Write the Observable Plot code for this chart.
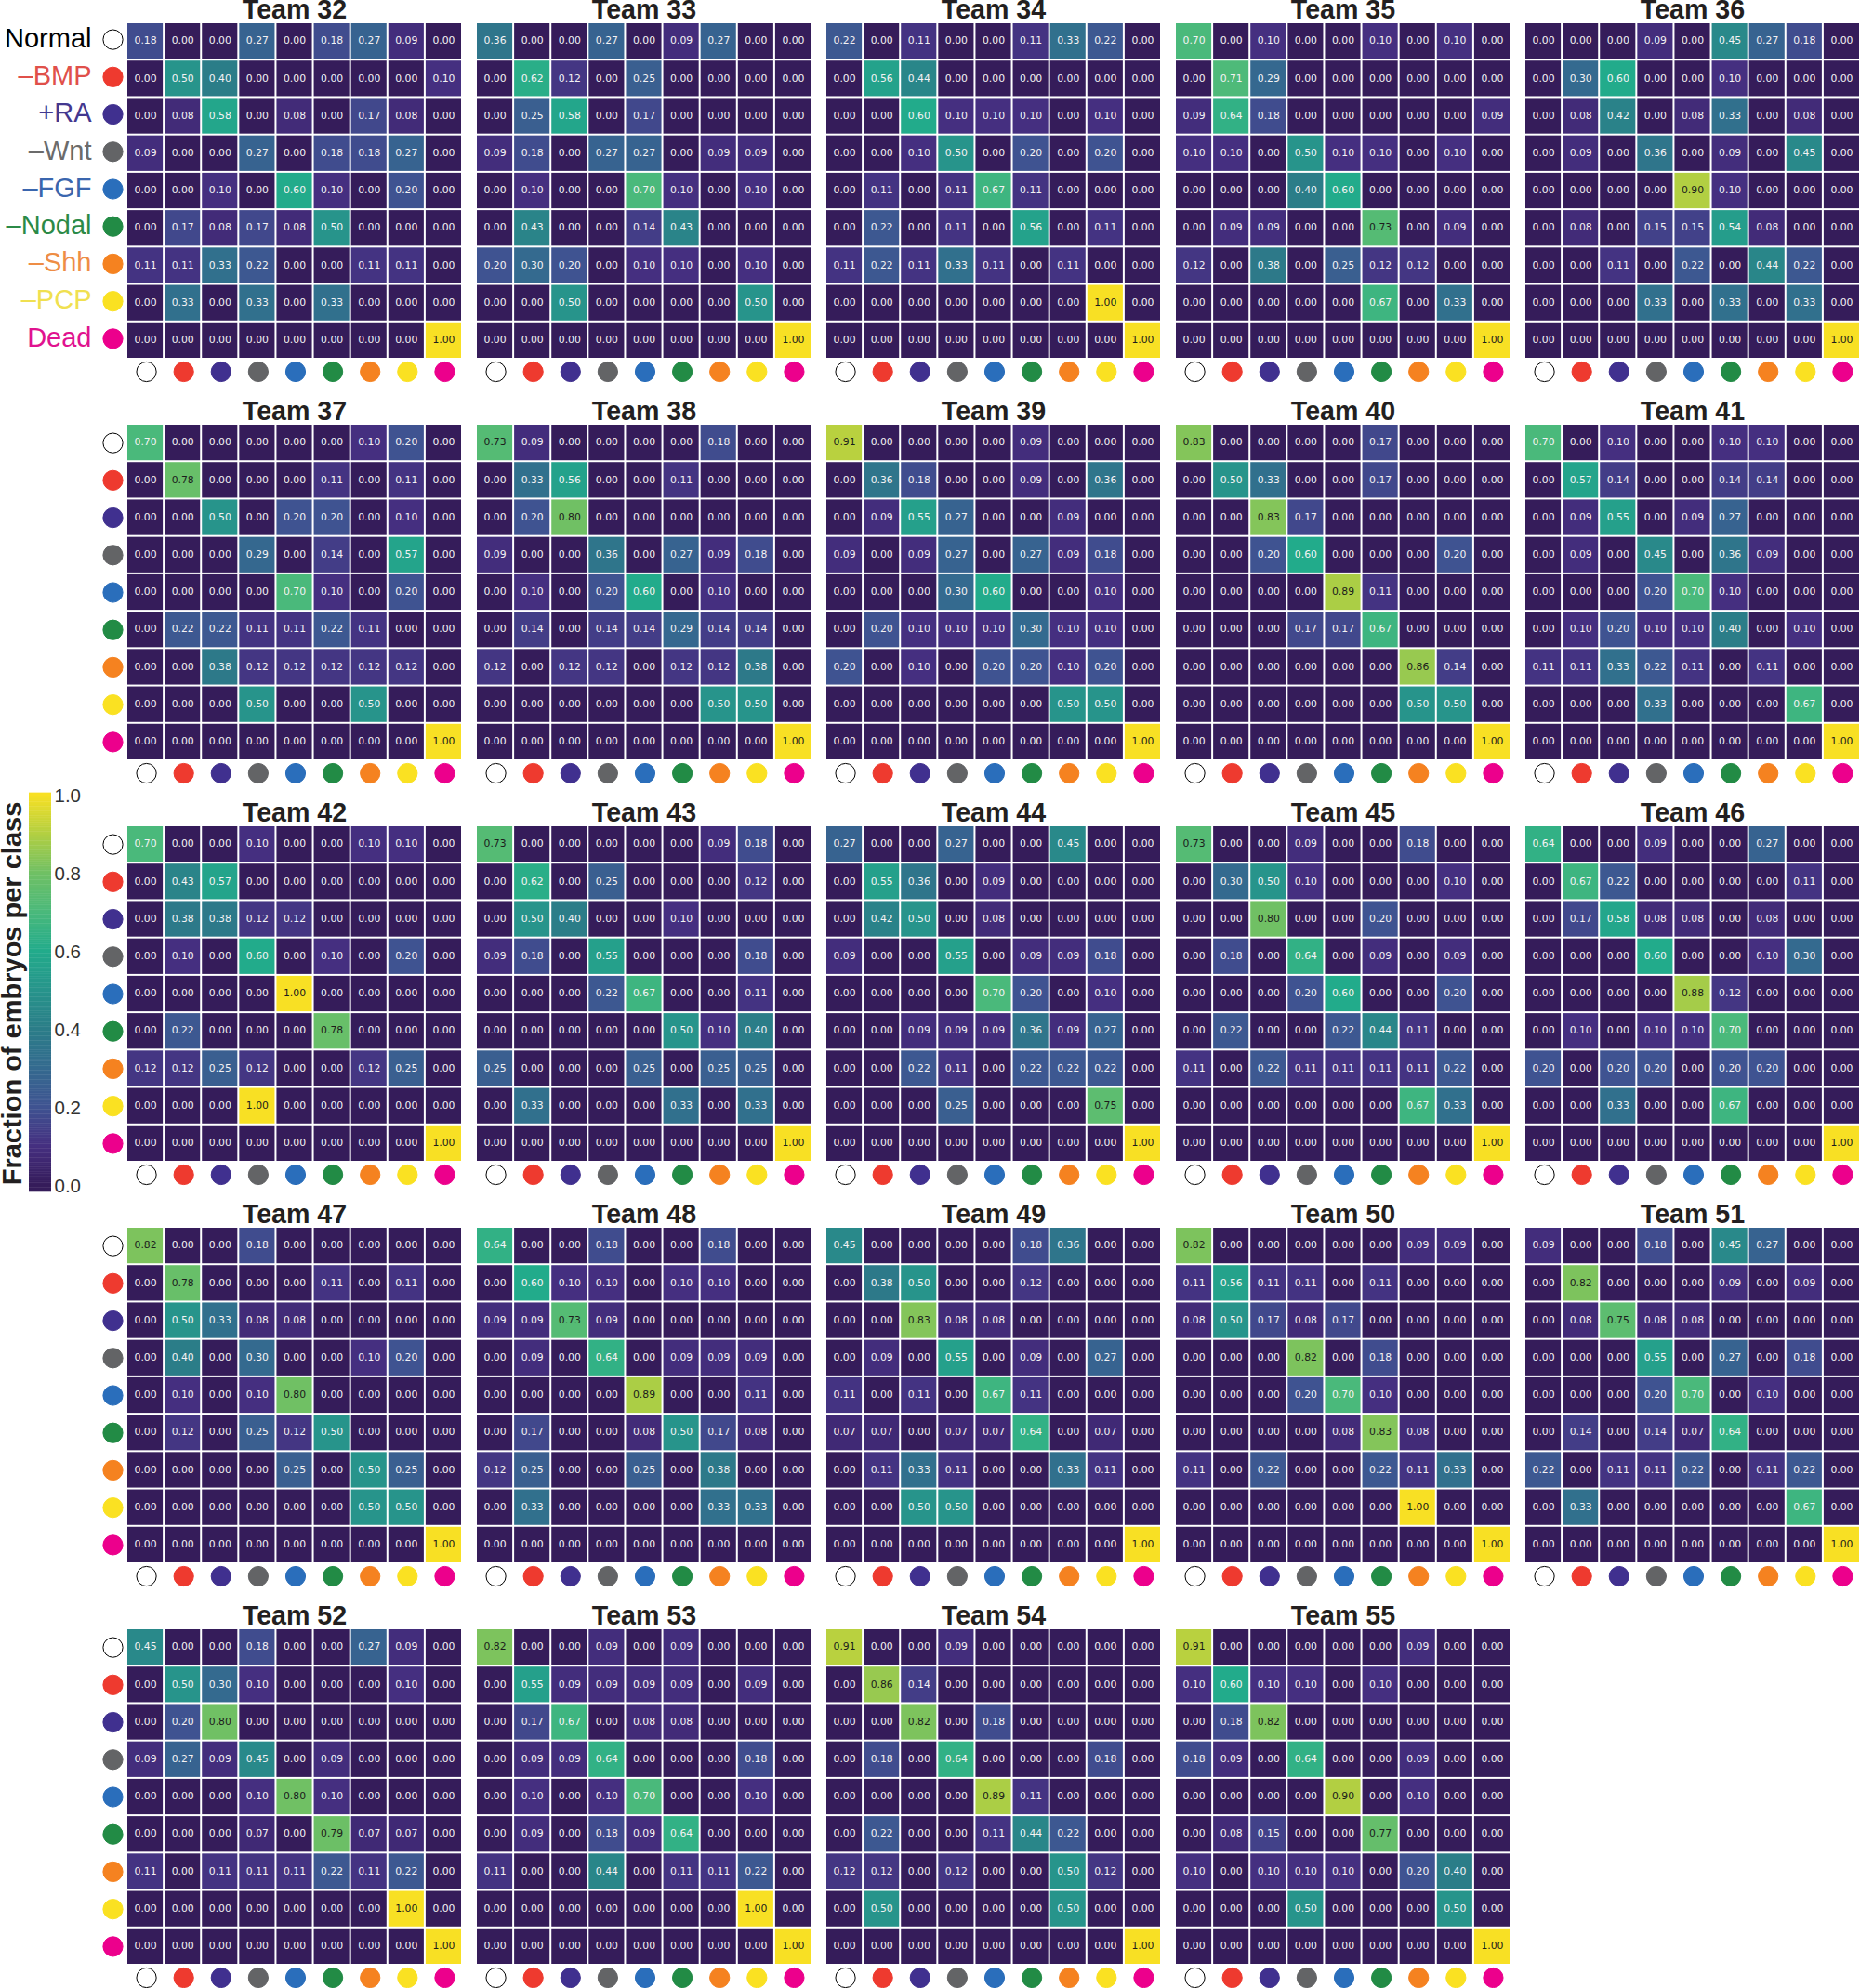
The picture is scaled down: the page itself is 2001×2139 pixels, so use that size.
<!DOCTYPE html>
<html>
<head>
<meta charset="utf-8">
<script src="https://cdn.jsdelivr.net/npm/d3@7"></script>
<script src="https://cdn.jsdelivr.net/npm/@observablehq/plot@0.6"></script>
<style>
  html, body { margin: 0; padding: 0; background: white; }
  #page { position: relative; width: 2001px; height: 2139px; overflow: hidden; }
  #page svg { display: block; position: absolute; background: transparent; }
</style>
</head>
<body>
<div id="page"></div>
<script>
const class_names = ["Normal", "–BMP", "+RA", "–Wnt", "–FGF", "–Nodal", "–Shh", "–PCP", "Dead"];
const class_fills = ["#ffffff", "#ee3a2f", "#40308f", "#636466", "#2a6ebb", "#228b45", "#f58220", "#fae122", "#ec008c"];
const class_strokes = ["#000000", "#ee3a2f", "#40308f", "#636466", "#2a6ebb", "#228b45", "#f58220", "#fae122", "#ec008c"];
const label_colors = ["#000000", "#e0504a", "#43388f", "#6b6b6b", "#3a66ae", "#2b8a47", "#ee8d45", "#f0e050", "#e0128f"];

const color_domain = [0, 0.1, 0.2, 0.3, 0.4, 0.5, 0.6, 0.7, 0.8, 0.9, 1];
const color_range = ["#351c5a", "#452f80", "#3f5391", "#346a8f", "#2b7d88", "#27948b", "#22ab8b", "#4ab97b", "#70c064", "#b2cf42", "#f8e024"];
const colorbar_ticks = [0, 0.2, 0.4, 0.6, 0.8, 1];

const dead_row = [0, 0, 0, 0, 0, 0, 0, 0, 1];

const team32 = [[.18,0,0,.27,0,.18,.27,.09,0],[0,.5,.4,0,0,0,0,0,.1],[0,.08,.58,0,.08,0,.17,.08,0],[.09,0,0,.27,0,.18,.18,.27,0],[0,0,.1,0,.6,.1,0,.2,0],[0,.17,.08,.17,.08,.5,0,0,0],[.11,.11,.33,.22,0,0,.11,.11,0],[0,.33,0,.33,0,.33,0,0,0],dead_row];
const team33 = [[.36,0,0,.27,0,.09,.27,0,0],[0,.62,.12,0,.25,0,0,0,0],[0,.25,.58,0,.17,0,0,0,0],[.09,.18,0,.27,.27,0,.09,.09,0],[0,.1,0,0,.7,.1,0,.1,0],[0,.43,0,0,.14,.43,0,0,0],[.2,.3,.2,0,.1,.1,0,.1,0],[0,0,.5,0,0,0,0,.5,0],dead_row];
const team34 = [[.22,0,.11,0,0,.11,.33,.22,0],[0,.56,.44,0,0,0,0,0,0],[0,0,.6,.1,.1,.1,0,.1,0],[0,0,.1,.5,0,.2,0,.2,0],[0,.11,0,.11,.67,.11,0,0,0],[0,.22,0,.11,0,.56,0,.11,0],[.11,.22,.11,.33,.11,0,.11,0,0],[0,0,0,0,0,0,0,1,0],dead_row];
const team35 = [[.7,0,.1,0,0,.1,0,.1,0],[0,.71,.29,0,0,0,0,0,0],[.09,.64,.18,0,0,0,0,0,.09],[.1,.1,0,.5,.1,.1,0,.1,0],[0,0,0,.4,.6,0,0,0,0],[0,.09,.09,0,0,.73,0,.09,0],[.12,0,.38,0,.25,.12,.12,0,0],[0,0,0,0,0,.67,0,.33,0],dead_row];
const team36 = [[0,0,0,.09,0,.45,.27,.18,0],[0,.3,.6,0,0,.1,0,0,0],[0,.08,.42,0,.08,.33,0,.08,0],[0,.09,0,.36,0,.09,0,.45,0],[0,0,0,0,.9,.1,0,0,0],[0,.08,0,.15,.15,.54,.08,0,0],[0,0,.11,0,.22,0,.44,.22,0],[0,0,0,.33,0,.33,0,.33,0],dead_row];
const team37 = [[.7,0,0,0,0,0,.1,.2,0],[0,.78,0,0,0,.11,0,.11,0],[0,0,.5,0,.2,.2,0,.1,0],[0,0,0,.29,0,.14,0,.57,0],[0,0,0,0,.7,.1,0,.2,0],[0,.22,.22,.11,.11,.22,.11,0,0],[0,0,.38,.12,.12,.12,.12,.12,0],[0,0,0,.5,0,0,.5,0,0],dead_row];
const team38 = [[.73,.09,0,0,0,0,.18,0,0],[0,.33,.56,0,0,.11,0,0,0],[0,.2,.8,0,0,0,0,0,0],[.09,0,0,.36,0,.27,.09,.18,0],[0,.1,0,.2,.6,0,.1,0,0],[0,.14,0,.14,.14,.29,.14,.14,0],[.12,0,.12,.12,0,.12,.12,.38,0],[0,0,0,0,0,0,.5,.5,0],dead_row];
const team39 = [[.91,0,0,0,0,.09,0,0,0],[0,.36,.18,0,0,.09,0,.36,0],[0,.09,.55,.27,0,0,.09,0,0],[.09,0,.09,.27,0,.27,.09,.18,0],[0,0,0,.3,.6,0,0,.1,0],[0,.2,.1,.1,.1,.3,.1,.1,0],[.2,0,.1,0,.2,.2,.1,.2,0],[0,0,0,0,0,0,.5,.5,0],dead_row];
const team40 = [[.83,0,0,0,0,.17,0,0,0],[0,.5,.33,0,0,.17,0,0,0],[0,0,.83,.17,0,0,0,0,0],[0,0,.2,.6,0,0,0,.2,0],[0,0,0,0,.89,.11,0,0,0],[0,0,0,.17,.17,.67,0,0,0],[0,0,0,0,0,0,.86,.14,0],[0,0,0,0,0,0,.5,.5,0],dead_row];
const team41 = [[.7,0,.1,0,0,.1,.1,0,0],[0,.57,.14,0,0,.14,.14,0,0],[0,.09,.55,0,.09,.27,0,0,0],[0,.09,0,.45,0,.36,.09,0,0],[0,0,0,.2,.7,.1,0,0,0],[0,.1,.2,.1,.1,.4,0,.1,0],[.11,.11,.33,.22,.11,0,.11,0,0],[0,0,0,.33,0,0,0,.67,0],dead_row];
const team42 = [[.7,0,0,.1,0,0,.1,.1,0],[0,.43,.57,0,0,0,0,0,0],[0,.38,.38,.12,.12,0,0,0,0],[0,.1,0,.6,0,.1,0,.2,0],[0,0,0,0,1,0,0,0,0],[0,.22,0,0,0,.78,0,0,0],[.12,.12,.25,.12,0,0,.12,.25,0],[0,0,0,1,0,0,0,0,0],dead_row];
const team43 = [[.73,0,0,0,0,0,.09,.18,0],[0,.62,0,.25,0,0,0,.12,0],[0,.5,.4,0,0,.1,0,0,0],[.09,.18,0,.55,0,0,0,.18,0],[0,0,0,.22,.67,0,0,.11,0],[0,0,0,0,0,.5,.1,.4,0],[.25,0,0,0,.25,0,.25,.25,0],[0,.33,0,0,0,.33,0,.33,0],dead_row];
const team44 = [[.27,0,0,.27,0,0,.45,0,0],[0,.55,.36,0,.09,0,0,0,0],[0,.42,.5,0,.08,0,0,0,0],[.09,0,0,.55,0,.09,.09,.18,0],[0,0,0,0,.7,.2,0,.1,0],[0,0,.09,.09,.09,.36,.09,.27,0],[0,0,.22,.11,0,.22,.22,.22,0],[0,0,0,.25,0,0,0,.75,0],dead_row];
const team45 = [[.73,0,0,.09,0,0,.18,0,0],[0,.3,.5,.1,0,0,0,.1,0],[0,0,.8,0,0,.2,0,0,0],[0,.18,0,.64,0,.09,0,.09,0],[0,0,0,.2,.6,0,0,.2,0],[0,.22,0,0,.22,.44,.11,0,0],[.11,0,.22,.11,.11,.11,.11,.22,0],[0,0,0,0,0,0,.67,.33,0],dead_row];
const team46 = [[.64,0,0,.09,0,0,.27,0,0],[0,.67,.22,0,0,0,0,.11,0],[0,.17,.58,.08,.08,0,.08,0,0],[0,0,0,.6,0,0,.1,.3,0],[0,0,0,0,.88,.12,0,0,0],[0,.1,0,.1,.1,.7,0,0,0],[.2,0,.2,.2,0,.2,.2,0,0],[0,0,.33,0,0,.67,0,0,0],dead_row];
const team47 = [[.82,0,0,.18,0,0,0,0,0],[0,.78,0,0,0,.11,0,.11,0],[0,.5,.33,.08,.08,0,0,0,0],[0,.4,0,.3,0,0,.1,.2,0],[0,.1,0,.1,.8,0,0,0,0],[0,.12,0,.25,.12,.5,0,0,0],[0,0,0,0,.25,0,.5,.25,0],[0,0,0,0,0,0,.5,.5,0],dead_row];
const team48 = [[.64,0,0,.18,0,0,.18,0,0],[0,.6,.1,.1,0,.1,.1,0,0],[.09,.09,.73,.09,0,0,0,0,0],[0,.09,0,.64,0,.09,.09,.09,0],[0,0,0,0,.89,0,0,.11,0],[0,.17,0,0,.08,.5,.17,.08,0],[.12,.25,0,0,.25,0,.38,0,0],[0,.33,0,0,0,0,.33,.33,0],[0,0,0,0,0,0,0,0,0]];
const team49 = [[.45,0,0,0,0,.18,.36,0,0],[0,.38,.5,0,0,.12,0,0,0],[0,0,.83,.08,.08,0,0,0,0],[0,.09,0,.55,0,.09,0,.27,0],[.11,0,.11,0,.67,.11,0,0,0],[.07,.07,0,.07,.07,.64,0,.07,0],[0,.11,.33,.11,0,0,.33,.11,0],[0,0,.5,.5,0,0,0,0,0],dead_row];
const team50 = [[.82,0,0,0,0,0,.09,.09,0],[.11,.56,.11,.11,0,.11,0,0,0],[.08,.5,.17,.08,.17,0,0,0,0],[0,0,0,.82,0,.18,0,0,0],[0,0,0,.2,.7,.1,0,0,0],[0,0,0,0,.08,.83,.08,0,0],[.11,0,.22,0,0,.22,.11,.33,0],[0,0,0,0,0,0,1,0,0],dead_row];
const team51 = [[.09,0,0,.18,0,.45,.27,0,0],[0,.82,0,0,0,.09,0,.09,0],[0,.08,.75,.08,.08,0,0,0,0],[0,0,0,.55,0,.27,0,.18,0],[0,0,0,.2,.7,0,.1,0,0],[0,.14,0,.14,.07,.64,0,0,0],[.22,0,.11,.11,.22,0,.11,.22,0],[0,.33,0,0,0,0,0,.67,0],dead_row];
const team52 = [[.45,0,0,.18,0,0,.27,.09,0],[0,.5,.3,.1,0,0,0,.1,0],[0,.2,.8,0,0,0,0,0,0],[.09,.27,.09,.45,0,.09,0,0,0],[0,0,0,.1,.8,.1,0,0,0],[0,0,0,.07,0,.79,.07,.07,0],[.11,0,.11,.11,.11,.22,.11,.22,0],[0,0,0,0,0,0,0,1,0],dead_row];
const team53 = [[.82,0,0,.09,0,.09,0,0,0],[0,.55,.09,.09,.09,.09,0,.09,0],[0,.17,.67,0,.08,.08,0,0,0],[0,.09,.09,.64,0,0,0,.18,0],[0,.1,0,.1,.7,0,0,.1,0],[0,.09,0,.18,.09,.64,0,0,0],[.11,0,0,.44,0,.11,.11,.22,0],[0,0,0,0,0,0,0,1,0],dead_row];
const team54 = [[.91,0,0,.09,0,0,0,0,0],[0,.86,.14,0,0,0,0,0,0],[0,0,.82,0,.18,0,0,0,0],[0,.18,0,.64,0,0,0,.18,0],[0,0,0,0,.89,.11,0,0,0],[0,.22,0,0,.11,.44,.22,0,0],[.12,.12,0,.12,0,0,.5,.12,0],[0,.5,0,0,0,0,.5,0,0],dead_row];
const team55 = [[.91,0,0,0,0,0,.09,0,0],[.1,.6,.1,.1,0,.1,0,0,0],[0,.18,.82,0,0,0,0,0,0],[.18,.09,0,.64,0,0,.09,0,0],[0,0,0,0,.9,0,.1,0,0],[0,.08,.15,0,0,.77,0,0,0],[.1,0,.1,.1,.1,0,.2,.4,0],[0,0,0,.5,0,0,0,.5,0],dead_row];

const team_numbers = [32,33,34,35,36,37,38,39,40,41,42,43,44,45,46,47,48,49,50,51,52,53,54,55];
const team_values = [team32,team33,team34,team35,team36,team37,team38,team39,team40,team41,team42,team43,team44,team45,team46,team47,team48,team49,team50,team51,team52,team53,team54,team55];

const page = document.querySelector("#page");
const color_scale = { type: "linear", domain: color_domain, range: color_range, clamp: true };

// one facet per team, 5 across
const teams = team_numbers.map((n, i) => ({ title: `Team ${n}`, col: i % 5, row: Math.floor(i / 5) }));
const cells = team_values.flatMap((rows, i) =>
  rows.flatMap((values, r) =>
    values.map((v, c) => ({ col: i % 5, row: Math.floor(i / 5), pred: class_names[c], truth: class_names[r], v }))
  )
);
const classes = class_names.map((name, i) => ({
  name,
  fill: class_fills[i],
  stroke: class_strokes[i],
  label: label_colors[i],
}));
const bottom_dots = teams.flatMap((t) => classes.map((c) => ({ ...c, col: t.col, row: t.row })));
const side_dots = d3.range(1, 5).flatMap((row) => classes.map((c) => ({ ...c, col: 0, row })));

const plot = Plot.plot({
  width: 2001,
  height: 2139,
  marginTop: 24,
  marginBottom: 25,
  marginLeft: 136,
  marginRight: 0,
  style: { background: "transparent" },
  fx: { axis: null, domain: d3.range(5), paddingInner: 15 / 376, paddingOuter: 0, round: false },
  fy: { axis: null, domain: d3.range(5), paddingInner: 70 / 432, paddingOuter: 0, round: false },
  x: { axis: null, domain: class_names, padding: 0, round: false },
  y: { axis: null, domain: class_names, padding: 0, round: false },
  color: color_scale,
  marks: [
    Plot.cell(cells, { x: "pred", y: "truth", fx: "col", fy: "row", fill: "v", inset: 1 }),
    Plot.text(cells, {
      x: "pred",
      y: "truth",
      fx: "col",
      fy: "row",
      text: (d) => d3.format(".2f")(d.v),
      fill: (d) => (d.v > 0.72 ? "#1c1c1c" : "#f4f2f4"),
      fontFamily: "DejaVu Sans",
      fontSize: 10.8,
      dy: -0.7,
    }),
    Plot.text(teams, {
      fx: "col",
      fy: "row",
      text: "title",
      frameAnchor: "top",
      lineAnchor: "bottom",
      dy: -4.5,
      fontFamily: "Liberation Sans",
      fontWeight: "bold",
      fontSize: 28.6,
      fill: "#231f20",
    }),
    Plot.dot(bottom_dots, {
      x: "name",
      fx: "col",
      fy: "row",
      frameAnchor: "bottom",
      dy: 13.5,
      dx: 1,
      r: 10.6,
      fill: "fill",
      stroke: "stroke",
      strokeWidth: 1,
    }),
    Plot.dot(side_dots, {
      y: "name",
      fx: "col",
      fy: "row",
      frameAnchor: "left",
      dx: -15,
      r: 10.6,
      fill: "fill",
      stroke: "stroke",
      strokeWidth: 1,
    }),
    // first row legend sits a bit higher than the cells
    Plot.dot(classes, {
      y: "name",
      fx: () => 0,
      fy: () => 0,
      frameAnchor: "left",
      dx: -15,
      dy: -2,
      r: 10.6,
      fill: "fill",
      stroke: "stroke",
      strokeWidth: 1,
    }),
    Plot.text(classes, {
      y: "name",
      fx: () => 0,
      fy: () => 0,
      text: "name",
      frameAnchor: "left",
      textAnchor: "end",
      dx: -38,
      dy: -3,
      fontFamily: "Liberation Sans",
      fontSize: 29,
      fill: "label",
    }),
  ],
});
page.append(plot);

// colorbar sits on the left of the 3rd row, its own small plot
const ramp = d3.range(-0.02, 1.01, 0.004);
const colorbar = Plot.plot({
  width: 100,
  height: 460,
  marginTop: 15,
  marginBottom: 18,
  marginLeft: 31,
  marginRight: 45,
  style: { background: "transparent" },
  x: { axis: null, domain: [0, 1] },
  y: { domain: [-0.0143, 1.0024], axis: null },
  color: color_scale,
  marks: [
    Plot.rect(ramp, {
      x1: 0,
      x2: 1,
      y1: (d) => Math.max(d, -0.0143),
      y2: (d) => Math.min(d + 0.005, 1.0024),
      fill: (d) => d,
    }),
    Plot.axisY(colorbar_ticks, {
      anchor: "right",
      tickSize: 0,
      tickPadding: 3,
      tickFormat: d3.format(".1f"),
      fontFamily: "Liberation Sans",
      fontSize: 20.5,
      fill: "#333333",
      label: null,
    }),
    Plot.text(["Fraction of embryos per class"], {
      frameAnchor: "left",
      textAnchor: "middle",
      rotate: -90,
      dx: -8.5,
      lineAnchor: "bottom",
      fontFamily: "Liberation Sans",
      fontWeight: "bold",
      fontSize: 29,
      fill: "#231f20",
    }),
  ],
});
colorbar.style.left = "0px";
colorbar.style.top = "840px";
page.append(colorbar);
</script>
</body>
</html>
